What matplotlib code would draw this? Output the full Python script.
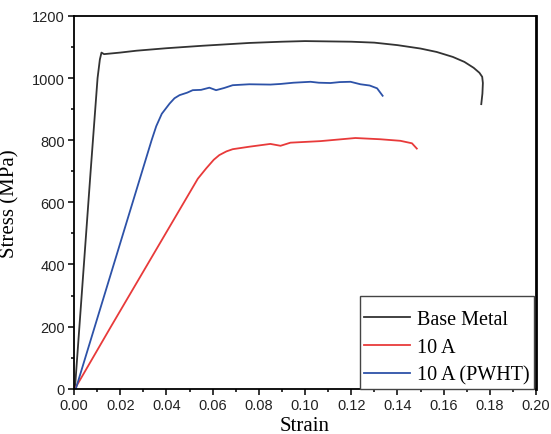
import matplotlib
matplotlib.use("Agg")
import matplotlib.pyplot as plt
from matplotlib.ticker import MultipleLocator

# ── data ────────────────────────────────────────
base_strain = [0.0004, 0.0072, 0.0102, 0.0112, 0.0119, 0.013, 0.020,
               0.027, 0.040, 0.0557, 0.0759, 0.090, 0.100, 0.110, 0.120, 0.130,
               0.140, 0.150, 0.157, 0.164, 0.169, 0.173, 0.1755, 0.1767, 0.1770,
               0.1768, 0.1763]
base_stress = [0, 700, 1000, 1060, 1082, 1077, 1082,
               1088, 1096, 1104, 1113, 1117, 1119, 1118, 1117, 1114,
               1106, 1095, 1084, 1068, 1052, 1033, 1017, 1004, 984,
               950, 916]

a10_strain = [0.0004, 0.0160, 0.0318, 0.0476, 0.0536, 0.0572, 0.0605, 0.0629, 0.066,
              0.0687, 0.0759, 0.085, 0.0894, 0.0937, 0.1067, 0.1218, 0.1326, 0.1413,
              0.1463, 0.1484]
a10_stress = [0, 200, 400, 600, 676, 709, 737, 752, 764,
              771, 779, 788, 782, 792, 797, 807, 803, 798,
              790, 773]

pwht_strain = [0.0008, 0.0090, 0.0172, 0.0254, 0.0336, 0.0356, 0.038, 0.0414, 0.0435,
               0.0457, 0.049, 0.0514, 0.055, 0.0586, 0.0615, 0.065, 0.0687, 0.0759,
               0.085, 0.0894, 0.095, 0.1024, 0.106, 0.111, 0.115, 0.1197, 0.124,
               0.128, 0.1312, 0.1336]
pwht_stress = [0, 200, 400, 600, 800, 845, 885, 918, 935,
               945, 953, 961, 962, 969, 961, 968, 977, 980,
               979, 981, 985, 988, 985, 984, 987, 988, 980,
               976, 967, 943]

labels = ["Base Metal", "10 A", "10 A (PWHT)"]
colors = ["#333333", "#e83a3a", "#2d52a8"]

fig = plt.figure(figsize=(5.51, 4.35), dpi=100)
ax = fig.add_axes([0.1343, 0.1041, 0.8385, 0.857])

for xs, ys, lab, c in zip([base_strain, a10_strain, pwht_strain],
                          [base_stress, a10_stress, pwht_stress], labels, colors):
    ax.plot(xs, ys, color=c, lw=1.3, label=lab)

ax.set_xlim(0, 0.20)
ax.set_ylim(0, 1200)
ax.xaxis.set_major_locator(MultipleLocator(0.02))
ax.xaxis.set_minor_locator(MultipleLocator(0.01))
ax.yaxis.set_major_locator(MultipleLocator(200))
ax.yaxis.set_minor_locator(MultipleLocator(100))
ax.xaxis.set_major_formatter(plt.FuncFormatter(lambda v, p: f"{v:.2f}"))

for s in ax.spines.values():
    s.set_linewidth(1.3)
ax.spines["right"].set_linewidth(2.0)

ax.tick_params(which="both", direction="out", top=False, right=False,
               labelsize=10.5, labelcolor="#222222", width=1.1, pad=2.5)
ax.tick_params(which="major", length=4)
ax.tick_params(which="minor", length=2.5)
for t in ax.get_xticklabels() + ax.get_yticklabels():
    t.set_fontfamily("Liberation Sans")

ax.set_xlabel("Strain", fontsize=15, family="Liberation Serif")
ax.set_ylabel("Stress (MPa)", fontsize=15, family="Liberation Serif")
ax.xaxis.set_label_coords(0.5, -0.073)
ax.yaxis.set_label_coords(-0.119, 0.5)

leg = ax.legend(loc="lower right", bbox_to_anchor=(0.995, 0.0),
                prop={"family": "Liberation Serif", "size": 14.5},
                title=" ", title_fontsize=1.5, fancybox=False, framealpha=1,
                edgecolor="#444444", handlelength=2.3, handletextpad=0.35,
                labelspacing=0.43, borderpad=0.2, borderaxespad=0.0)
leg.get_frame().set_linewidth(1.0)

fig.savefig("out.png", dpi=100, facecolor="white")
